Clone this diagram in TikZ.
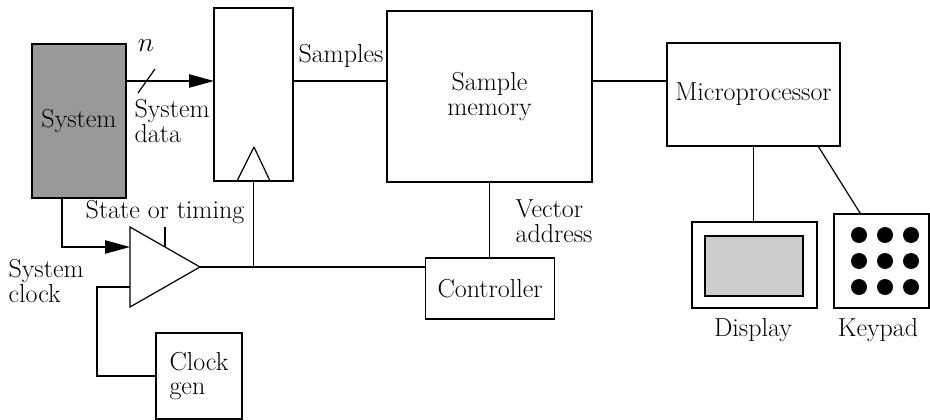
\documentclass[tikz,border=0pt]{standalone}
\usetikzlibrary{arrows.meta,calc}
\definecolor{sysgray}{RGB}{153,153,153}
\definecolor{lcdgray}{RGB}{204,204,204}

\begin{document}
\begin{tikzpicture}[x=0.75pt,y=-0.75pt,line width=0.9pt,
  font=\fontsize{19.5}{18.5}\selectfont,
  blk/.style={draw,rectangle,inner sep=0pt,outer sep=0pt},
  lbl/.style={inner sep=0pt,align=left},
  arr/.style={-{Triangle[length=18.75pt,width=10pt]}}]
  \useasboundingbox (0,0) rectangle (930,420);

  % Blocks
  \node[blk,fill=sysgray,minimum width=70.5pt,minimum height=115.5pt] (sys) at (79,121) {System};
  \node[blk,minimum width=59.25pt,minimum height=129.75pt] (reg) at (253.5,94.5) {};
  \node[blk,minimum width=153.75pt,minimum height=128.25pt,align=center] (mem) at (489.5,96.5) {Sample\\memory};
  \node[blk,minimum width=129.75pt,minimum height=77.25pt] (micro) at (753.5,94.5) {Microprocessor};
  \node[blk,minimum width=96.75pt,minimum height=45.75pt] (ctrl) at (490,288.5) {Controller};
  \node[blk,minimum width=64.5pt,minimum height=64.5pt,align=left] (clk) at (199,376) {Clock\\gen};

  % Display and keypad
  \node[blk,minimum width=93.75pt,minimum height=64.5pt] (disp) at (754.5,265) {};
  \node[blk,fill=lcdgray,minimum width=73.5pt,minimum height=45pt] (lcd) at (754,266) {};
  \node[blk,minimum width=71.25pt,minimum height=70.5pt] (key) at (881.5,261) {};
  \foreach \i in {0,1,2}
    \foreach \j in {0,1,2}
      \fill (859+26*\i,235+26*\j) circle[radius=6pt];

  % Clock input of the register
  \draw (254,147) -- (237,181) (254,147) -- (270,181);
  \draw[line width=2pt] (237,181) -- (270,181);

  % Trigger amplifier
  \coordinate (ampin1) at (130,247);
  \coordinate (ampin2) at (130,287);
  \coordinate (ampout) at (200,267);
  \coordinate (tick) at (165,247);
  \draw (130,227) -- (ampout) -- (130,307) -- cycle;
  \draw (tick) -- ++(0,-20);

  % Data path
  \coordinate (bus) at (0,81);
  \draw[arr] (sys.east |- bus) -- (reg.west |- bus);
  \draw (138,93) -- (155,69);
  \draw (reg.east |- bus) -- (mem.west |- bus);
  \draw (mem.east |- bus) -- (micro.west |- bus);
  \draw (mem.south) -- (mem.south |- ctrl.north);

  % Clock and trigger lines
  \draw[arr] ([xshift=-12.75pt]sys.south) |- (ampin1);
  \draw (ampin2) -- ++(-33,0) |- (clk.west);
  \draw (ampout) -- (ctrl.west |- ampout);
  \draw (reg.south) -- (reg.south |- ampout);

  % Peripherals
  \draw (micro.south) -- (micro.south |- disp.north);
  \draw ([xshift=-16.5pt]micro.south east) -- ([xshift=20pt]key.north west);

  % Labels
  \node[lbl] (nlbl) at (146,46) {$n$};
  \node[lbl,anchor=west] (sdata) at (134,121) {System\\data};
  \node[lbl] (smpl) at (341,56) {Samples};
  \node[lbl] (state) at (165,212) {State or timing};
  \node[lbl,anchor=west] (sclk) at (8,281) {System\\clock};
  \node[lbl,anchor=west] (vaddr) at (515,221) {Vector\\address};
  \node[lbl] (dlbl) at (753,330) {Display};
  \node[lbl] (klbl) at (878,330) {Keypad};
\end{tikzpicture}
\end{document}
